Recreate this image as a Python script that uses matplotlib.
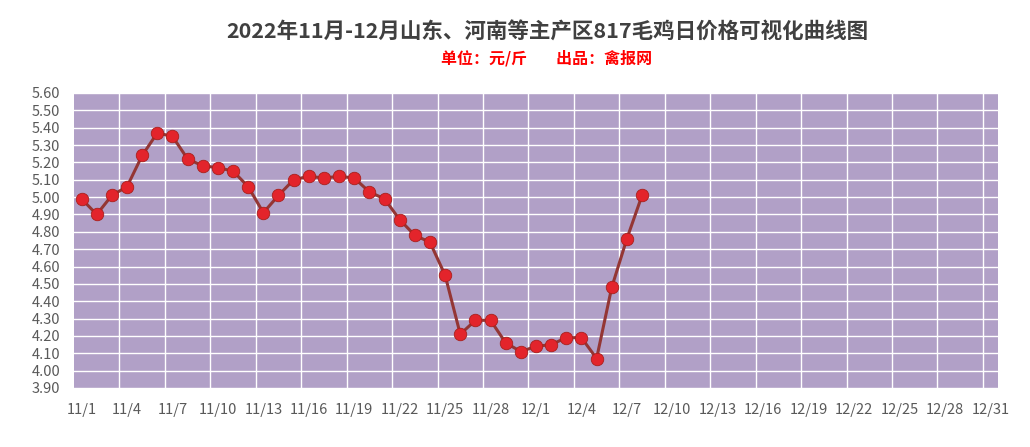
import matplotlib
matplotlib.use("Agg")
import matplotlib.pyplot as plt
import numpy as np
from matplotlib.ticker import FixedLocator, MultipleLocator

plt.rcParams['font.family'] = ['Noto Sans CJK SC', 'DejaVu Sans']

# 61 date categories 11/1 .. 12/31
categories = [f"11/{d}" for d in range(1, 31)] + [f"12/{d}" for d in range(1, 32)]
prices = [4.99, 4.90, 5.01, 5.06, 5.24, 5.37, 5.35, 5.22, 5.18, 5.17,
          5.15, 5.06, 4.91, 5.01, 5.10, 5.12, 5.11, 5.12, 5.11, 5.03,
          4.99, 4.87, 4.78, 4.74, 4.55, 4.21, 4.29, 4.29, 4.16, 4.11,
          4.14, 4.15, 4.19, 4.19, 4.07, 4.48, 4.76, 5.01]
title = "2022年11月-12月山东、河南等主产区817毛鸡日价格可视化曲线图"
subtitle = "单位：元/斤        出品：禽报网"

fig = plt.figure(figsize=(10.30, 4.47), dpi=100)
ax = fig.add_axes([74/1030, 1-388/447, (998-74)/1030, (388-93)/447])
ax.set_facecolor('#B1A0C7')

n = len(categories)
x = np.arange(len(prices))
ax.plot(x, prices, color='#943634', lw=2.2, zorder=3,
        marker='o', markersize=9, markerfacecolor='#E3242B',
        markeredgecolor='#A8201C', markeredgewidth=0.6)

ax.set_xlim(-0.5, n - 0.5)
ax.set_ylim(3.90, 5.60)
ax.yaxis.set_major_locator(MultipleLocator(0.10))
ax.yaxis.set_major_formatter(matplotlib.ticker.FormatStrFormatter('%.2f'))
ax.grid(axis='y', color='white', lw=1.0)
ax.set_axisbelow(True)

# vertical gridlines at category boundaries every 3 categories
for b in np.arange(2.5, n - 0.5, 3):
    ax.axvline(b, color='white', lw=1.0, zorder=1)

tick_pos = list(range(0, n, 3))
ax.xaxis.set_major_locator(FixedLocator(tick_pos))
ax.set_xticklabels([categories[i] for i in tick_pos])

for s in ax.spines.values():
    s.set_visible(False)
ax.tick_params(axis='both', length=0, colors='#595959', labelsize=10.5)
ax.tick_params(axis='x', pad=11)
ax.tick_params(axis='y', pad=10)

fig.text(547/1030, 1-32/447, title, ha='center', va='center',
         fontsize=15.5, fontweight='bold', color='#404040')
fig.text(547/1030, 1-58/447, subtitle, ha='center', va='center',
         fontsize=11.5, fontweight='bold', color='#FF0000')

fig.savefig('out.png', dpi=100)
